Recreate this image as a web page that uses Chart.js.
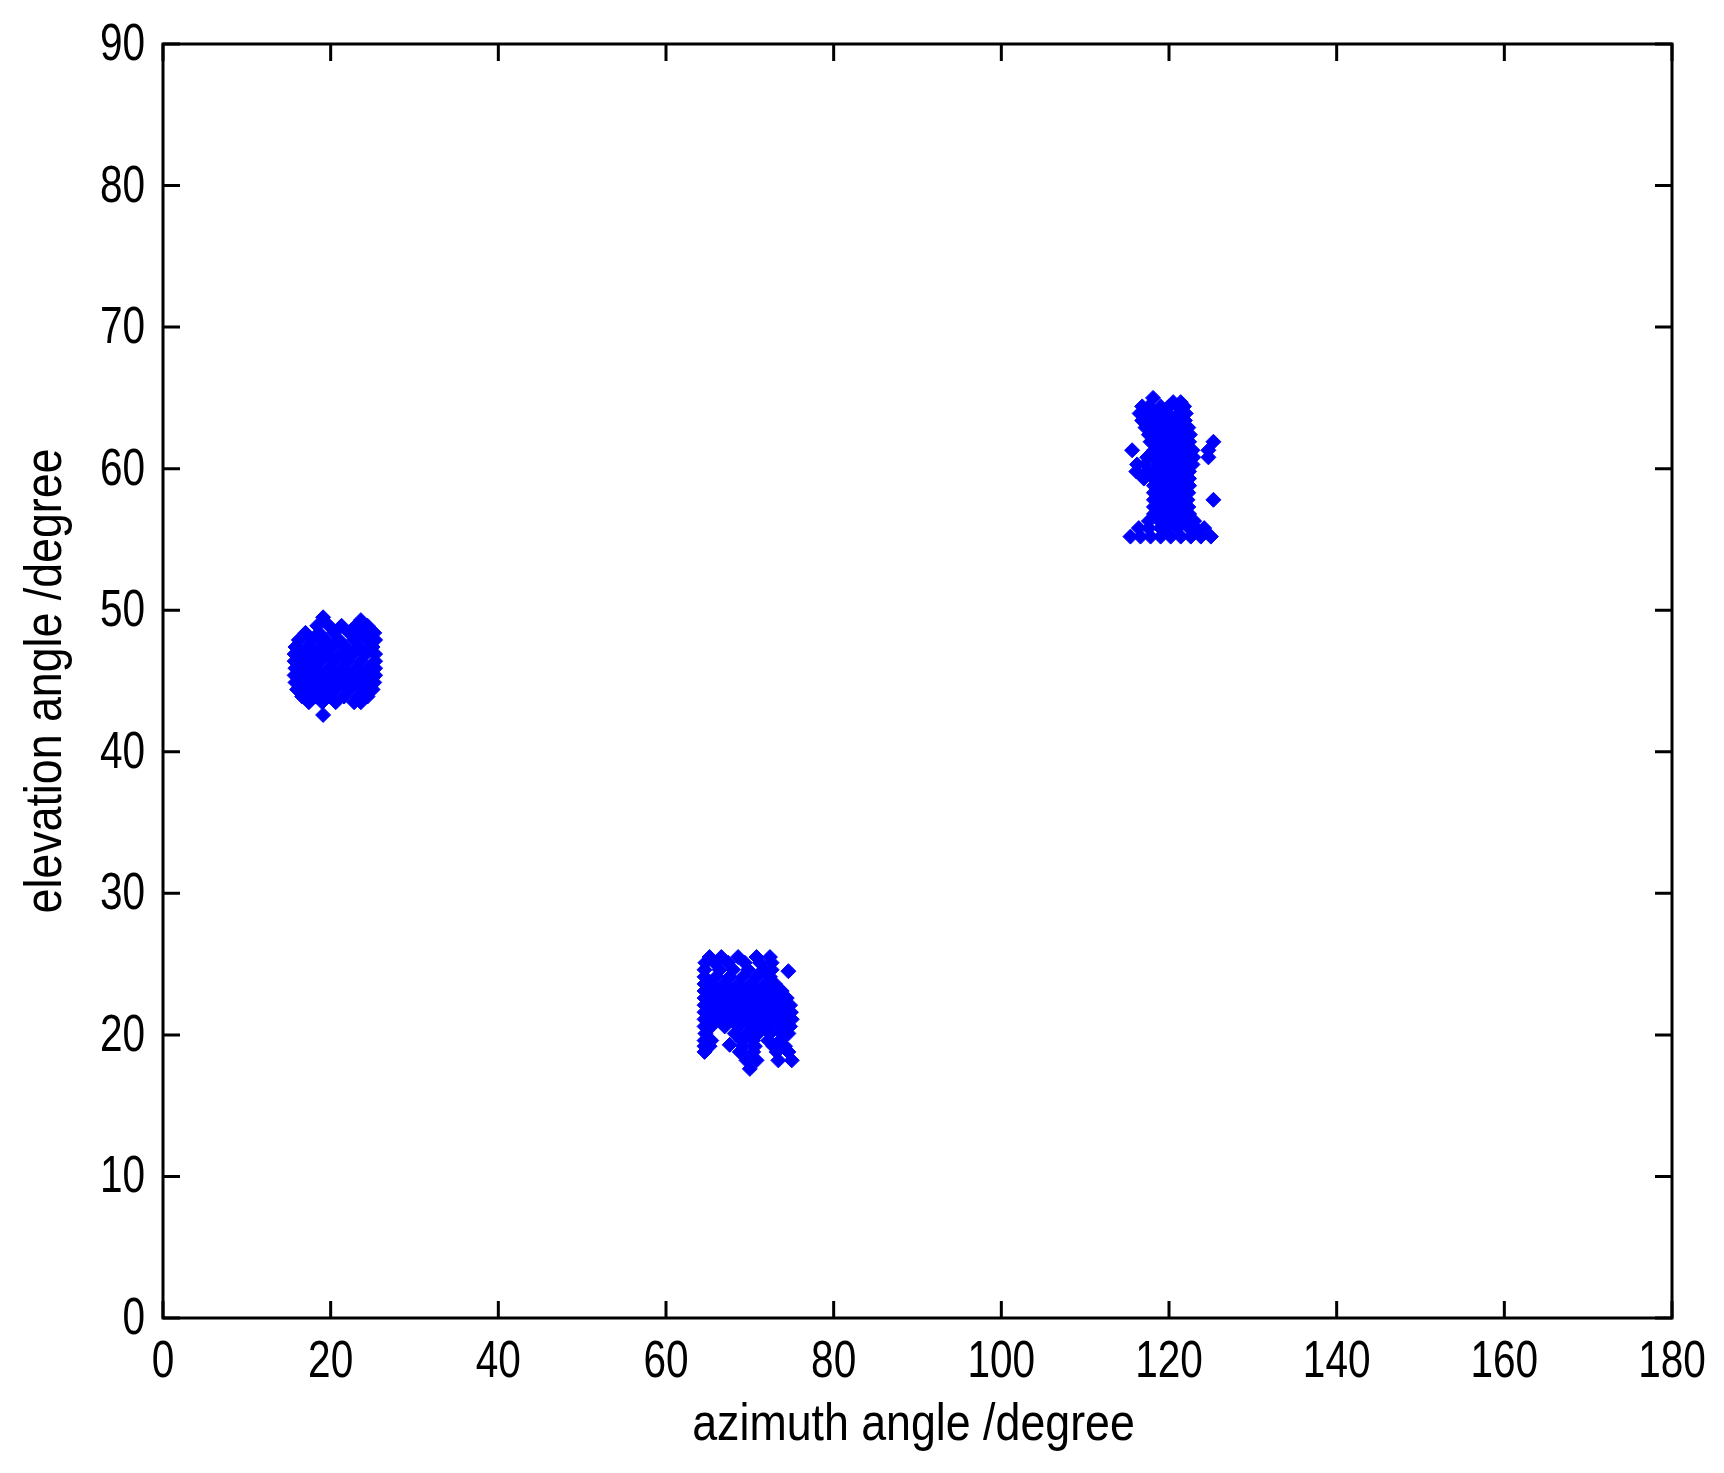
<!DOCTYPE html>
<html>
<head>
<meta charset="utf-8">
<title>azimuth / elevation scatter</title>
<script src="https://cdn.jsdelivr.net/npm/chart.js@4.4.0/dist/chart.umd.min.js"></script>
<style>
  html, body { margin: 0; padding: 0; background: #fff; }
  #wrap { width: 1724px; height: 1473px; position: relative; }
</style>
</head>
<body>
<div id="wrap"><canvas id="scatterChart"></canvas></div>
<script>
// ---- data ----
// each row: [elevation, [azimuths at that elevation]]
const xTicks = [0, 20, 40, 60, 80, 100, 120, 140, 160, 180];
const yTicks = [0, 10, 20, 30, 40, 50, 60, 70, 80, 90];
const xTitle = 'azimuth angle /degree';
const yTitle = 'elevation angle /degree';

const source1 = [
  [49.5, [19.1]],
  [49.3, [23.6]],
  [48.9, [18.4, 19.8, 21.3, 23.0, 24.4]],
  [48.4, [17.0, 18.6, 20.4, 22.2, 23.6, 25.2]],
  [47.9, [16.2, 17.8, 19.4, 21.0, 22.8, 24.4, 25.3]],
  [47.4, [15.8, 17.2, 18.8, 20.2, 21.8, 23.4, 25.0]],
  [46.9, [15.7, 16.6, 18.0, 19.6, 21.2, 22.6, 24.2, 25.3]],
  [46.4, [15.7, 17.4, 18.8, 20.4, 22.0, 23.6, 25.3]],
  [45.9, [15.8, 16.6, 18.2, 19.8, 21.4, 23.0, 24.6, 25.3]],
  [45.4, [15.7, 17.4, 19.0, 20.6, 22.2, 23.8, 25.3]],
  [44.9, [15.8, 16.6, 18.2, 19.8, 21.4, 23.0, 24.6, 25.2]],
  [44.4, [16.0, 17.4, 19.0, 20.6, 22.2, 23.8, 25.0]],
  [43.9, [16.6, 18.2, 19.8, 21.6, 23.2, 24.4]],
  [43.5, [17.4, 19.0, 20.6, 22.8, 23.6]],
  [42.6, [19.1]]
];

const source2 = [
  [25.5, [65.2, 66.6, 68.6, 70.8, 72.4]],
  [25.1, [64.7, 65.8, 67.4, 69.4, 71.2, 72.6]],
  [24.6, [64.6, 66.4, 68.0, 69.8, 71.6, 72.6]],
  [24.5, [74.6]],
  [24.1, [64.6, 66.0, 67.6, 69.2, 70.8, 72.4]],
  [23.6, [64.6, 65.4, 67.0, 68.6, 70.2, 71.8, 73.0]],
  [23.1, [64.6, 66.2, 67.8, 69.4, 71.0, 72.6, 73.8]],
  [22.6, [64.6, 65.4, 67.0, 68.6, 70.2, 71.8, 73.4, 74.4]],
  [22.1, [64.6, 66.2, 67.8, 69.4, 71.0, 72.6, 74.2, 74.8]],
  [21.6, [64.6, 65.4, 67.0, 68.6, 70.2, 71.8, 73.4, 74.9]],
  [21.1, [64.6, 66.2, 67.8, 69.4, 71.0, 72.6, 74.2, 75.0]],
  [20.6, [64.6, 65.4, 67.0, 68.6, 70.2, 71.8, 73.4, 74.8]],
  [20.1, [64.7, 68.2, 69.6, 71.0, 72.4, 73.8, 74.6]],
  [19.6, [64.6, 65.4, 69.0, 70.4, 72.2, 73.6]],
  [19.3, [67.6]],
  [19.2, [64.6, 65.2, 69.2, 70.6, 72.8, 74.2]],
  [18.8, [64.6, 68.8, 70.4, 73.2, 74.6]],
  [18.2, [69.6, 70.8, 73.4, 75.0]],
  [17.6, [70.0]]
];

const source3 = [
  [65.0, [118.1]],
  [64.7, [120.5, 121.4]],
  [64.4, [116.8, 117.6, 119.0, 120.0, 121.0, 121.8]],
  [63.9, [116.5, 117.7, 118.4, 119.8, 121.2, 122.0]],
  [63.4, [116.8, 117.7, 119.1, 120.5, 121.9]],
  [62.9, [117.2, 118.4, 119.8, 121.2, 122.3]],
  [62.4, [117.6, 118.9, 120.3, 121.7, 122.5]],
  [61.9, [117.8, 118.2, 119.6, 121.0, 122.4, 125.3]],
  [61.3, [115.6, 118.2, 118.9, 120.3, 121.7, 122.8, 124.7]],
  [60.8, [117.4, 118.2, 119.6, 121.0, 122.4, 122.9, 124.7]],
  [60.3, [116.2, 117.2, 118.9, 120.3, 121.7, 122.8]],
  [59.8, [116.1, 117.4, 118.2, 119.6, 121.0, 122.4]],
  [59.3, [117.0, 118.2, 118.9, 120.3, 121.7, 122.4]],
  [58.8, [118.2, 119.6, 121.0, 122.4]],
  [58.3, [118.2, 118.9, 120.3, 121.7, 122.3]],
  [57.8, [118.2, 119.6, 121.0, 122.2, 125.3]],
  [57.3, [118.2, 118.9, 120.3, 121.7, 122.3]],
  [56.8, [118.2, 119.6, 121.0, 122.4]],
  [56.3, [117.6, 118.9, 120.3, 121.7, 123.0]],
  [55.8, [116.4, 117.6, 119.0, 119.6, 121.0, 122.4, 123.2, 124.2]],
  [55.2, [115.4, 116.6, 117.8, 119.0, 120.2, 121.4, 122.6, 123.8, 125.0]]
];

// ---- helpers ----
function toPoints(rows) {
  const pts = [];
  rows.forEach(([el, azs]) => azs.forEach(az => pts.push({ x: az, y: el })));
  return pts;
}

const FONT = "52px 'Liberation Sans', Arial, sans-serif";
const TICK_LEN = 17;

// narrow (horizontally squeezed) text, the original uses a condensed face
function narrowText(ctx, text, x, y, opts) {
  ctx.save();
  ctx.translate(x, y);
  if (opts.rotate) ctx.rotate(-Math.PI / 2);
  ctx.scale(opts.squeeze, 1);
  ctx.font = FONT;
  ctx.fillStyle = '#000';
  ctx.textAlign = opts.align;
  ctx.textBaseline = 'alphabetic';
  ctx.fillText(text, 0, 0);
  ctx.restore();
}

// box, inward ticks on all four sides, labels (matlab style)
const frameTicks = {
  id: 'frameTicks',
  afterDraw(chart) {
    const { ctx, chartArea: a, scales: { x, y } } = chart;
    ctx.save();
    ctx.strokeStyle = '#000';
    ctx.lineWidth = 3;
    ctx.beginPath();
    x.ticks.forEach(t => {
      const px = x.getPixelForValue(t.value);
      ctx.moveTo(px, a.bottom); ctx.lineTo(px, a.bottom - TICK_LEN);
      ctx.moveTo(px, a.top); ctx.lineTo(px, a.top + TICK_LEN);
    });
    y.ticks.forEach(t => {
      const py = y.getPixelForValue(t.value);
      ctx.moveTo(a.left, py); ctx.lineTo(a.left + TICK_LEN, py);
      ctx.moveTo(a.right, py); ctx.lineTo(a.right - TICK_LEN, py);
    });
    ctx.stroke();
    ctx.strokeRect(a.left, a.top, a.right - a.left, a.bottom - a.top);
    ctx.restore();

    x.ticks.forEach(t => {
      narrowText(ctx, String(t.value), x.getPixelForValue(t.value), a.bottom + 59,
        { align: 'center', squeeze: 0.78 });
    });
    y.ticks.forEach(t => {
      narrowText(ctx, String(t.value), a.left - 18, y.getPixelForValue(t.value) + 16,
        { align: 'right', squeeze: 0.78 });
    });
    narrowText(ctx, xTitle, (a.left + a.right) / 2 - 4, a.bottom + 122,
      { align: 'center', squeeze: 0.86 });
    narrowText(ctx, yTitle, 61, (a.top + a.bottom) / 2,
      { align: 'center', squeeze: 0.86, rotate: true });
  }
};

const ctx = document.getElementById('scatterChart').getContext('2d');

new Chart(ctx, {
  type: 'scatter',
  data: {
    datasets: [{
      label: 'estimates',
      data: [...toPoints(source1), ...toPoints(source2), ...toPoints(source3)],
      pointStyle: 'rectRot',
      pointRadius: 7.5,
      pointHoverRadius: 7.5,
      backgroundColor: '#0000ff',
      borderColor: '#0000ff',
      borderWidth: 1
    }]
  },
  options: {
    responsive: true,
    maintainAspectRatio: false,
    animation: false,
    layout: { padding: { top: 44, right: 52, left: 0, bottom: 0 } },
    plugins: {
      legend: { display: false },
      tooltip: { enabled: false }
    },
    scales: {
      x: {
        type: 'linear',
        min: 0,
        max: 180,
        afterBuildTicks: (s) => { s.ticks = xTicks.map(v => ({ value: v })); },
        afterFit: (s) => { s.height = 155; },
        grid: { display: false, drawTicks: false },
        border: { display: false },
        ticks: { display: false }
      },
      y: {
        type: 'linear',
        min: 0,
        max: 90,
        afterBuildTicks: (s) => { s.ticks = yTicks.map(v => ({ value: v })); },
        afterFit: (s) => { s.width = 163; },
        grid: { display: false, drawTicks: false },
        border: { display: false },
        ticks: { display: false }
      }
    }
  },
  plugins: [frameTicks]
});
</script>
</body>
</html>
